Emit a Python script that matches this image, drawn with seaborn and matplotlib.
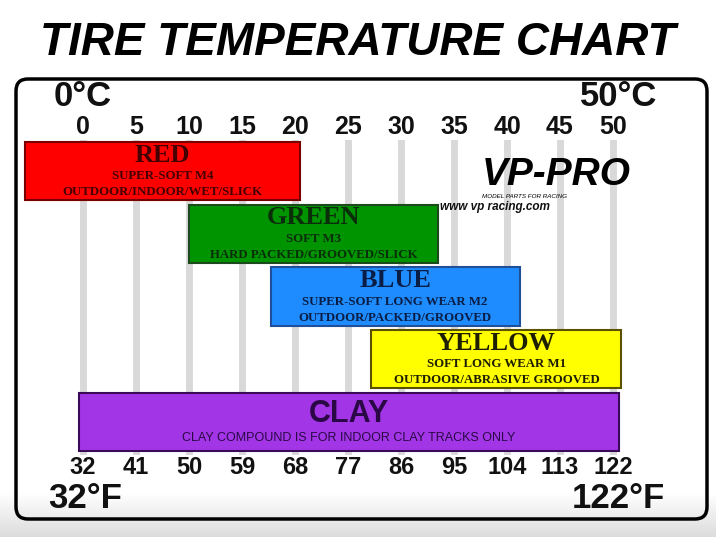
import numpy as np
import pandas as pd
import matplotlib
matplotlib.use("Agg")
import matplotlib.pyplot as plt
import seaborn as sns
from matplotlib.patches import FancyBboxPatch
from matplotlib.transforms import IdentityTransform
from matplotlib.colors import LinearSegmentedColormap

# ---------------- data ----------------
compounds = ["RED", "GREEN", "BLUE", "YELLOW", "CLAY"]
start_c = [-5.5, 10.0, 17.7, 27.2, -0.4]
end_c = [20.5, 33.5, 41.2, 50.8, 50.6]
line1 = ["SUPER-SOFT M4", "SOFT M3", "SUPER-SOFT LONG WEAR M2",
         "SOFT LONG WEAR M1", "CLAY COMPOUND IS FOR INDOOR CLAY TRACKS ONLY"]
line2 = ["OUTDOOR/INDOOR/WET/SLICK", "HARD PACKED/GROOVED/SLICK",
         "OUTDOOR/PACKED/GROOVED", "OUTDOOR/ABRASIVE GROOVED", ""]
celsius_ticks = [0, 5, 10, 15, 20, 25, 30, 35, 40, 45, 50]
fahrenheit_ticks = [32, 41, 50, 59, 68, 77, 86, 95, 104, 113, 122]

fill_colors = ["#ff0000", "#009400", "#1e8cff", "#ffff00", "#a236e6"]
edge_colors = ["#7a0000", "#1d4a1d", "#1f4f99", "#5a5200", "#3a0a58"]
text_colors = ["#450000", "#0a2e0a", "#0a1d45", "#1e1e00", "#2a0845"]

df = pd.DataFrame({"compound": compounds,
                   "span": np.array(end_c) - np.array(start_c),
                   "start": start_c})

SANS = ["Liberation Sans", "DejaVu Sans"]
SERIF = ["Liberation Serif", "DejaVu Serif"]

sns.set_theme(style="white")
plt.rcParams["font.family"] = SANS

fig = plt.figure(figsize=(7.16, 5.37), dpi=100)
W, H = 716, 537

# bottom photographic grey gradient
bg = fig.add_axes([0, 0, 1, 44 / H], zorder=-5)
cm = LinearSegmentedColormap.from_list("g", ["#dcdcdc", "#ffffff"])
grad = np.linspace(0.0, 1.0, 50)[:, None]
bg.imshow(grad, cmap=cm, vmin=0, vmax=1, aspect="auto", origin="lower",
          extent=[0, 1, 0, 1])
bg.set_axis_off()

# main plotting axes (bar area)
ax_l, ax_r, ax_t, ax_b = 15, 707, 140, 455
ax = fig.add_axes([ax_l / W, 1 - ax_b / H, (ax_r - ax_l) / W, (ax_b - ax_t) / H])
ax.set_facecolor("none")

sns.barplot(data=df, x="span", y="compound", left=df["start"], orient="h",
            width=0.93, ax=ax, linewidth=1.5, color="#888888")
for patch, fc, ec in zip(ax.patches, fill_colors, edge_colors):
    patch.set_facecolor(fc)
    patch.set_edgecolor(ec)
    patch.set_zorder(3)

px_per_c = 10.6
ax.set_xlim(-(83 - ax_l) / px_per_c, 50 + (ax_r - 613) / px_per_c)
px_per_cat = 62.75
ax.set_ylim((ax_b - 171) / px_per_cat, (ax_t - 171) / px_per_cat)

for s in ax.spines.values():
    s.set_visible(False)
ax.set_yticks([])
ax.set_xlabel("")
ax.set_ylabel("")

ax.set_xticks(celsius_ticks, labels=[str(c) for c in celsius_ticks],
              fontsize=18, fontweight="bold", family=SANS, color="#111111")
ax.xaxis.tick_top()
ax.tick_params(axis="x", length=0, pad=1, top=False, bottom=False,
               labeltop=True, labelbottom=False)
ax.grid(axis="x", color="#d9d9d9", linewidth=5)
ax.grid(axis="y", visible=False)
ax.set_axisbelow(True)

sec = ax.secondary_xaxis("bottom", functions=(lambda c: c * 9 / 5 + 32,
                                               lambda f: (f - 32) * 5 / 9))
sec.set_xticks(fahrenheit_ticks, labels=[str(f) for f in fahrenheit_ticks],
               fontsize=17, fontweight="bold", family=SANS, color="#111111")
sec.tick_params(length=0, pad=1)
for s in sec.spines.values():
    s.set_visible(False)

# text inside bars
for i, name in enumerate(compounds):
    cx = (start_c[i] + end_c[i]) / 2
    tc = text_colors[i]
    if name == "CLAY":
        ax.text(cx, i - 8 / px_per_cat, name, ha="center", va="center",
                fontsize=22, fontweight="bold", family=SANS, color=tc, zorder=5)
        ax.text(cx, i + 16 / px_per_cat, line1[i], ha="center", va="center",
                fontsize=9, family=SANS, color=tc, zorder=5)
    else:
        ax.text(cx, i - 16 / px_per_cat, name, ha="center", va="center",
                fontsize=19, fontweight="bold", family=SERIF, color=tc, zorder=5)
        ax.text(cx, i + 5 / px_per_cat, line1[i], ha="center", va="center",
                fontsize=9.3, fontweight="bold", family=SERIF, color=tc, zorder=5)
        ax.text(cx, i + 21 / px_per_cat, line2[i], ha="center", va="center",
                fontsize=9.3, fontweight="bold", family=SERIF, color=tc, zorder=5)

# frame
frame = FancyBboxPatch((16, H - 519), 691, 440,
                       boxstyle="round,pad=0,rounding_size=12",
                       transform=IdentityTransform(), fill=False,
                       edgecolor="black", linewidth=2.5, zorder=10)
fig.patches.append(frame)

# title
fig.text(0.5, 1 - 43 / H, "TIRE TEMPERATURE CHART", ha="center", va="center",
         fontsize=33, fontweight="bold", fontstyle="italic", family=SANS,
         color="black")

# corner scale labels
fig.text(83 / W, 1 - 97 / H, "0°C", ha="center", va="center", fontsize=25,
         fontweight="bold", family=SANS, color="#111111")
fig.text(619 / W, 1 - 97 / H, "50°C", ha="center", va="center", fontsize=25,
         fontweight="bold", family=SANS, color="#111111")
fig.text(85 / W, 1 - 499 / H, "32°F", ha="center", va="center", fontsize=25,
         fontweight="bold", family=SANS, color="#111111")
fig.text(618 / W, 1 - 499 / H, "122°F", ha="center", va="center", fontsize=25,
         fontweight="bold", family=SANS, color="#111111")

# logo
fig.text(556 / W, 1 - 175 / H, "VP-PRO", ha="center", va="center", fontsize=28,
         fontweight="bold", fontstyle="italic", family=SANS, color="black")
fig.text(525 / W, 1 - 197 / H, "MODEL PARTS FOR RACING", ha="center", va="center",
         fontsize=4.5, fontstyle="italic", family=SANS, color="black")
fig.text(440 / W, 1 - 207 / H, "www vp racing.com", ha="left", va="center",
         fontsize=8.5, fontweight="bold", fontstyle="italic", family=SANS,
         color="#111111")

fig.savefig("out.png", dpi=100)
